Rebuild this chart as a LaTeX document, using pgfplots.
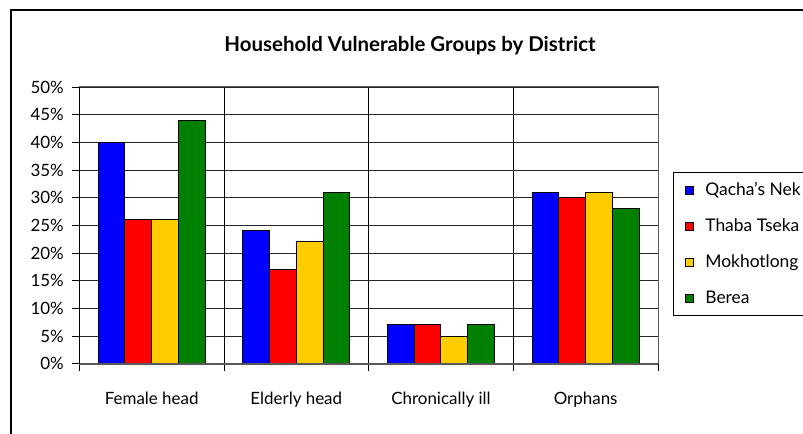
\documentclass[border=0pt]{standalone}
\usepackage{fontspec}
\setmainfont{Lato}
\usepackage{pgfplots}
\pgfplotsset{compat=1.18}
\definecolor{cQacha}{HTML}{0000FF}
\definecolor{cThaba}{HTML}{FF0000}
\definecolor{cMokh}{HTML}{FFCC00}
\definecolor{cBerea}{HTML}{008000}

\begin{document}
\begin{tikzpicture}[x=1bp,y=1bp]
\useasboundingbox (-79.3,-70.3) rectangle (723.7,363.7);
\clip (-79.3,-70.3) rectangle (723.7,363.7);
% outer chart frame, cut by the page on the right and bottom
\draw[black, line width=1.3bp] (-68.3,-90) -- (-68.3,353.7) -- (760,353.7);
\begin{axis}[
  scale only axis, width=578.7bp, height=276.7bp,
  ybar=0pt, bar width=26.7bp,
  xmin=-0.5, xmax=3.5, ymin=0, ymax=50,
  tick pos=left,
  xtick={0,1,2,3},
  xticklabels={Female head, Elderly head, Chronically ill, Orphans},
  minor xtick={-0.5,0.5,1.5,2.5,3.5},
  xminorgrids, minor x grid style={black, line width=0.7bp},
  major x tick style={draw=none},
  minor x tick style={black, line width=0.7bp},
  minor tick length=7bp, major tick length=7bp,
  tick align=outside,
  ytick={0,5,...,50},
  yticklabel={\pgfmathprintnumber{\tick}\%},
  ymajorgrids, major y grid style={black!85, line width=0.7bp},
  y tick style={black, line width=0.7bp},
  axis line style={gray!70!black, line width=1bp},
  /pgf/number format/assume math mode=true,
  tick label style={font=\fontsize{17}{19}\selectfont},
  yticklabel style={xshift=-5bp},
  xticklabel style={yshift=-18bp},
  legend style={at={(rel axis cs:1.026,0.692)}, anchor=north west,
    draw=black, line width=0.8bp, font=\fontsize{17.5}{20}\selectfont,
    row sep=17.7bp, inner xsep=12bp, inner ysep=8bp,
    cells={anchor=west}},
  legend image code/.code={\draw[#1,draw=black,line width=0.8bp] (0bp,-4bp) rectangle (8bp,4bp); \path (17bp,0bp);},
  every axis plot/.append style={draw=black, line width=1bp},
  clip=false,
]
\addplot[fill=cQacha] coordinates {(0,40) (1,24) (2,7) (3,31)};
\addplot[fill=cThaba] coordinates {(0,26) (1,17) (2,7) (3,30)};
\addplot[fill=cMokh] coordinates {(0,26) (1,22) (2,5) (3,31)};
\addplot[fill=cBerea] coordinates {(0,44) (1,31) (2,7) (3,28)};
\legend{Qacha's Nek, Thaba Tseka, Mokhotlong, Berea}
\draw[gray!70!black, line width=2bp] (rel axis cs:0,0) -- (rel axis cs:1,0);
\draw[black, line width=0.8bp] (rel axis cs:0,0) -- (rel axis cs:0,1);
\end{axis}
\node[font=\bfseries\fontsize{20.5}{24}\selectfont] at (330.7,317.7) {Household Vulnerable Groups by District};
\end{tikzpicture}
\end{document}
